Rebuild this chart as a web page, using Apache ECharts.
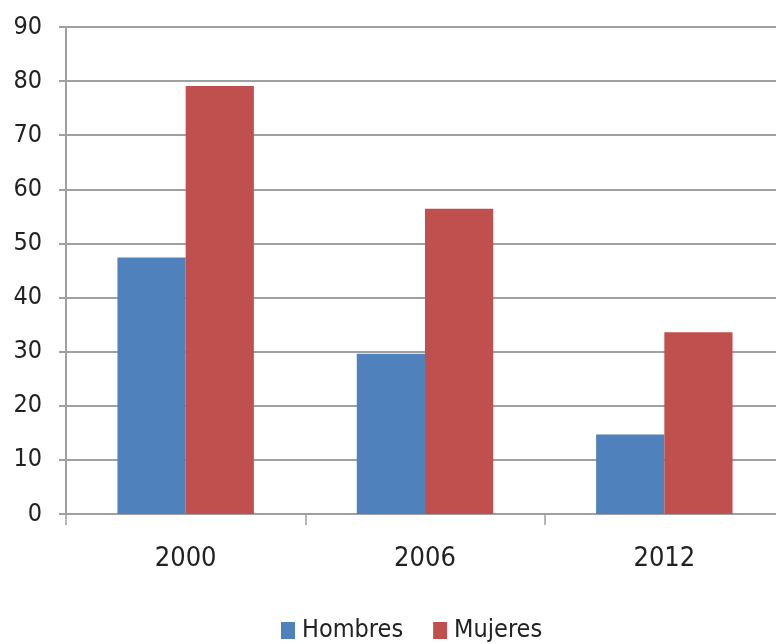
<!DOCTYPE html>
<html><head><meta charset="utf-8">
<script src="https://cdn.jsdelivr.net/npm/echarts@6/dist/echarts.min.js"></script>
<style>html,body{margin:0;padding:0;background:#fff;overflow:hidden;width:776px;height:644px}#c{width:790px;height:644px}</style>
</head><body><div id="c"></div>
<script>
const categories = ['2000', '2006', '2012'];
const hombres = [47.4, 29.6, 14.7];
const mujeres = [79.1, 56.4, 33.6];
const yTicks = { min: 0, max: 90, interval: 10 };

const FONT = '"DejaVu Sans Condensed", "Noto Sans", sans-serif';
const chart = echarts.init(document.getElementById('c'));
chart.setOption({
  animation: false,
  backgroundColor: '#ffffff',
  grid: { left: 66, right: 6, top: 27, bottom: 130 },
  legend: {
    top: 618, left: 281, padding: 0,
    itemWidth: 14, itemHeight: 17, itemGap: 30,
    icon: 'rect',
    textStyle: { fontFamily: FONT, fontSize: 25, color: '#222', padding: [0, 0, 0, 2] },
    data: ['Hombres', 'Mujeres']
  },
  xAxis: {
    type: 'category', data: categories,
    axisLine: { lineStyle: { color: '#a0a0a0', width: 2 } },
    axisTick: { show: true, length: 11, lineStyle: { color: '#a0a0a0', width: 1.5 } },
    axisLabel: { fontFamily: FONT, fontSize: 27, color: '#222', margin: 31 }
  },
  yAxis: {
    type: 'value', min: yTicks.min, max: yTicks.max, interval: yTicks.interval,
    axisLine: { show: true, lineStyle: { color: '#a0a0a0', width: 2 } },
    axisTick: { show: true, length: 7, lineStyle: { color: '#a0a0a0', width: 2 } },
    axisLabel: { fontFamily: FONT, fontSize: 25, color: '#222', margin: 24 },
    splitLine: { lineStyle: { color: '#a0a0a0', width: 2 } }
  },
  series: [
    { name: 'Hombres', type: 'bar', data: hombres, barGap: '0%', barCategoryGap: '43%',
      itemStyle: { color: '#4F81BD' } },
    { name: 'Mujeres', type: 'bar', data: mujeres, barGap: '0%', barCategoryGap: '43%',
      itemStyle: { color: '#C0504D' } }
  ]
});
</script></body></html>
